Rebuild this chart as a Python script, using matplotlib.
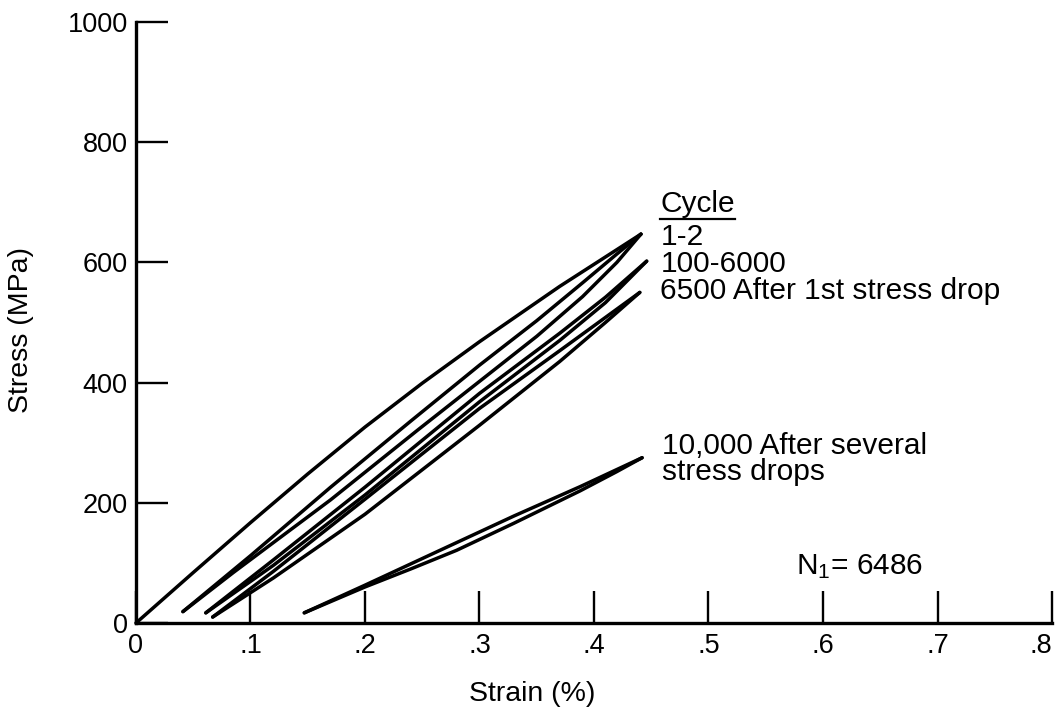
import matplotlib
matplotlib.use('Agg')
import matplotlib.pyplot as plt
from matplotlib.lines import Line2D

plt.rcParams['font.family'] = ['Liberation Sans', 'DejaVu Sans']
plt.rcParams['mathtext.fontset'] = 'custom'
plt.rcParams['mathtext.rm'] = 'Liberation Sans'

# hysteresis loops, strain (%) vs stress (MPa)
# cycle 1 loading from zero
load_1_strain = [0.0, 0.05, 0.10, 0.15, 0.20, 0.25, 0.30, 0.37, 0.441]
load_1_stress = [0, 84, 167, 248, 326, 399, 468, 560, 647]
# cycle 1-2 loop
loop_1_2_upper_strain = [0.041, 0.10, 0.17, 0.24, 0.30, 0.35, 0.39, 0.42, 0.441]
loop_1_2_upper_stress = [19, 112, 226, 336, 429, 503, 566, 614, 647]
loop_1_2_lower_strain = [0.041, 0.085, 0.17, 0.246, 0.30, 0.35, 0.39, 0.42, 0.441]
loop_1_2_lower_stress = [19, 84, 205, 321, 402, 477, 543, 600, 647]
# cycles 100-6000
loop_100_upper_strain = [0.061, 0.12, 0.20, 0.30, 0.37, 0.41, 0.446]
loop_100_upper_stress = [17, 105, 226, 382, 482, 542, 602]
loop_100_lower_strain = [0.061, 0.12, 0.20, 0.30, 0.37, 0.41, 0.446]
loop_100_lower_stress = [17, 96, 213, 368, 470, 533, 602]
# cycle 6500, after 1st stress drop
loop_6500_upper_strain = [0.067, 0.12, 0.20, 0.30, 0.37, 0.44]
loop_6500_upper_stress = [10, 86, 206, 357, 453, 550]
loop_6500_lower_strain = [0.067, 0.12, 0.20, 0.30, 0.37, 0.41, 0.44]
loop_6500_lower_stress = [10, 75, 181, 329, 435, 500, 550]
# cycle 10,000, after several stress drops
loop_10000_upper_strain = [0.147, 0.20, 0.2655, 0.33, 0.388, 0.442]
loop_10000_upper_stress = [17, 63, 121, 178, 227, 275]
loop_10000_lower_strain = [0.147, 0.20, 0.24, 0.28, 0.33, 0.388, 0.42, 0.442]
loop_10000_lower_stress = [17, 60, 90, 121, 166, 220, 252, 275]

x_ticks = [0, 0.1, 0.2, 0.3, 0.4, 0.5, 0.6, 0.7, 0.8]
x_tick_labels = ['0', '.1', '.2', '.3', '.4', '.5', '.6', '.7', '.8']
y_ticks = [0, 200, 400, 600, 800, 1000]
y_tick_labels = ['0', '200', '400', '600', '800', '1000']

cycle_labels = ['1-2', '100-6000', '6500 After 1st stress drop']
cycle_label_stress = [642, 598, 553]
late_labels = ['10,000 After several', 'stress drops']
late_label_stress = [294, 252]

fig = plt.figure(figsize=(10.59, 7.08), dpi=100)
ax = fig.add_axes([0.1284, 0.120, 0.865, 0.849])

curves = [
    (load_1_strain, load_1_stress),
    (loop_1_2_upper_strain, loop_1_2_upper_stress),
    (loop_1_2_lower_strain, loop_1_2_lower_stress),
    (loop_100_upper_strain, loop_100_upper_stress),
    (loop_100_lower_strain, loop_100_lower_stress),
    (loop_6500_upper_strain, loop_6500_upper_stress),
    (loop_6500_lower_strain, loop_6500_lower_stress),
    (loop_10000_upper_strain, loop_10000_upper_stress),
    (loop_10000_lower_strain, loop_10000_lower_stress),
]
for xs, ys in curves:
    ax.plot(xs, ys, color='black', linewidth=2.5, solid_capstyle='round',
            solid_joinstyle='round', clip_on=False)

ax.set_xlim(0, 0.8)
ax.set_ylim(0, 1000)
ax.spines['top'].set_visible(False)
ax.spines['right'].set_visible(False)
ax.spines['left'].set_linewidth(2.4)
ax.spines['bottom'].set_linewidth(2.4)

ax.set_xticks(x_ticks)
ax.set_xticklabels(x_tick_labels)
ax.set_yticks(y_ticks)
ax.set_yticklabels(y_tick_labels)
ax.tick_params(direction='in', length=23, width=1.7, labelsize=19.5, color='black')
ax.tick_params(axis='x', pad=7)
ax.tick_params(axis='y', pad=6)
# keep the last strain label inside the figure
ax.get_xticklabels()[-1].set_horizontalalignment('right')

ax.set_xlabel('Strain (%)', fontsize=20.5)
ax.set_ylabel('Stress (MPa)', fontsize=20.5)
ax.xaxis.set_label_coords(0.433, -0.0965)
ax.yaxis.set_label_coords(-0.111, 0.4875)

# cycle labels next to the loop tips
cycle_text = ax.text(0.458, 697, 'Cycle', fontsize=21.5, va='center', ha='left')
for lab, s in zip(cycle_labels, cycle_label_stress):
    ax.text(0.458, s, lab, fontsize=21.5, va='center', ha='left')
for lab, s in zip(late_labels, late_label_stress):
    ax.text(0.459, s, lab, fontsize=21.5, va='center', ha='left')

ax.text(0.576, 94, r'$\mathregular{N_1}$= 6486', fontsize=21.5, va='center', ha='left')

# underline "Cycle"
fig.canvas.draw()
bb = cycle_text.get_window_extent()
y_line = bb.y0 - 1
fig.add_artist(Line2D([bb.x0 / fig.bbox.width, bb.x1 / fig.bbox.width],
                      [y_line / fig.bbox.height, y_line / fig.bbox.height],
                      color='black', linewidth=1.6))

plt.savefig('out.png', dpi=100)
plt.close()
